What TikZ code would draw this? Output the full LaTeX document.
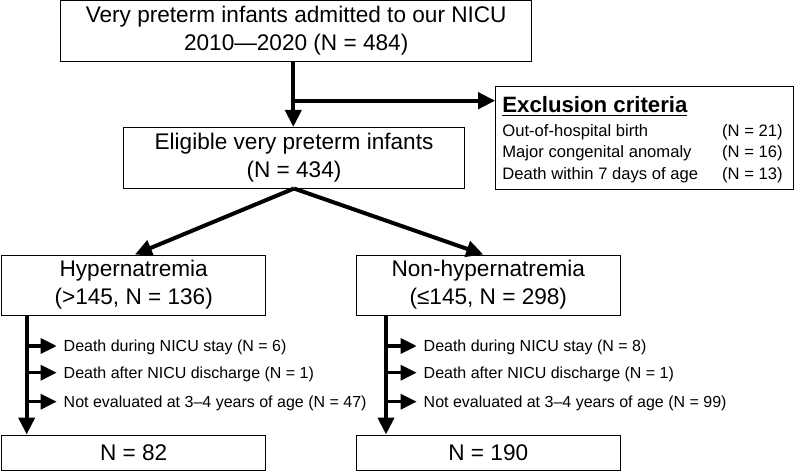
\documentclass[tikz,border=0pt]{standalone}
\usepackage{fontspec}
\setmainfont{Liberation Sans}
\usetikzlibrary{arrows.meta}
\newcommand{\thickul}[1]{\setbox0\hbox{#1}\rlap{\rule[-2pt]{\wd0}{0.9pt}}\box0}
\begin{document}
\begin{tikzpicture}[x=0.5pt,y=-0.5pt,
    box/.style={draw,line width=0.5pt,inner sep=0pt,align=center,font=\fontsize{11.3}{14}\selectfont},
    arr/.style={line width=2pt,-{Triangle[length=8.5pt,width=8pt]}},
    sarr/.style={line width=1.6pt,-{Triangle[length=8pt,width=7.5pt]}},
    side/.style={anchor=west,inner xsep=3.3pt,inner ysep=0pt,text height=5.7pt,text depth=0pt,font=\fontsize{8}{9.6}\selectfont},
    item/.style={inner sep=0pt,font=\fontsize{8.3}{10}\selectfont}]
    \useasboundingbox (0,0) rectangle (794,471);

        \node[box,minimum width=235.5pt,minimum height=30.2pt] (top) at (296.2,30.9) {Very preterm infants admitted to our NICU\\2010\textemdash2020 (N = 484)};
        \node[box,minimum width=170.3pt,minimum height=30.3pt] (elig) at (294,157.7) {Eligible very preterm infants\\(N = 434)};
        \node[draw,line width=0.5pt,minimum width=148.8pt,minimum height=51.3pt,inner sep=0pt] (excl) at (644.5,138) {};

        \node[item,anchor=base west] (t) at (502,112.3) {\fontsize{11.1}{13}\selectfont\bfseries\thickul{Exclusion criteria}};
        \node[item,anchor=base west] (e1) at (502,136) {Out-of-hospital birth};
        \node[item,anchor=base west] (e2) at (502,157.7) {Major congenital anomaly};
        \node[item,anchor=base west] (e3) at (502,179.5) {Death within 7 days of age};
        \node[item,anchor=base east] (c1) at (783,136) {(N = 21)};
        \node[item,anchor=base east] (c2) at (783,157.7) {(N = 16)};
        \node[item,anchor=base east] (c3) at (783,179.5) {(N = 13)};

        \node[box,minimum width=132pt,minimum height=30pt] (hyp) at (133.7,285) {Hypernatremia\\(>145, N = 136)};
        \node[box,minimum width=132.3pt,minimum height=30pt] (non) at (488.3,285) {Non-hypernatremia\\(≤145, N = 298)};
        \node[box,minimum width=132pt,minimum height=17.5pt] (h82) at (133.7,452.5) {N = 82};
        \node[box,minimum width=132.3pt,minimum height=17.5pt] (n190) at (488.3,452.5) {N = 190};

        \node[side] (h1) at (56.7,346) {Death during NICU stay (N = 6)};
        \node[side] (h2) at (56.7,372.7) {Death after NICU discharge (N = 1)};
        \node[side] (h3) at (56.7,401.7) {Not evaluated at 3–4 years of age (N = 47)};
        \node[side] (n1) at (416.7,346) {Death during NICU stay (N = 8)};
        \node[side] (n2) at (416.7,372.7) {Death after NICU discharge (N = 1)};
        \node[side] (n3) at (416.7,401.7) {Not evaluated at 3–4 years of age (N = 99)};

        \coordinate (br) at (293.3,100.7);
        \coordinate (hl) at (26.7,315);
        \coordinate (nl) at (386,315);

        \draw[arr] (top.south -| br) -- (br |- elig.north);
        \draw[arr] (br) -- (br -| excl.west);
        \draw[arr] (elig.south) -- ([xshift=0.6pt]hyp.north);
        \draw[arr] (elig.south) -- ([xshift=-2.5pt]non.north);

        \draw[arr] (hl) -- (hl |- h82.north);
        \draw[arr] (nl) -- (nl |- n190.north);
        \foreach \s in {h1,h2,h3}
            \draw[sarr] (hl |- \s.west) -- (\s.west);
        \foreach \s in {n1,n2,n3}
            \draw[sarr] (nl |- \s.west) -- (\s.west);
    \end{tikzpicture}
\end{document}
